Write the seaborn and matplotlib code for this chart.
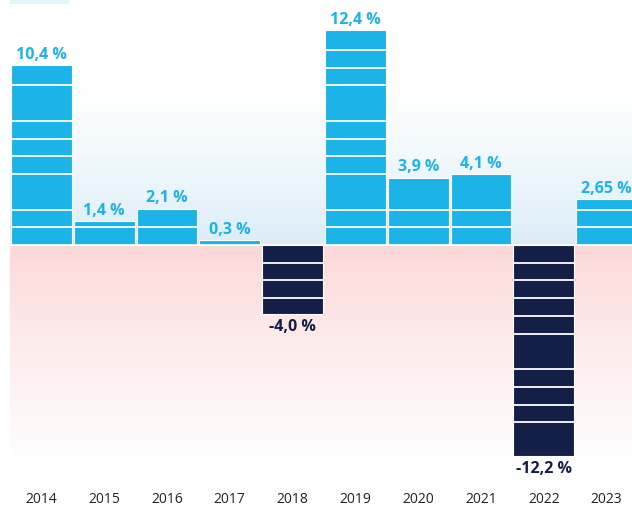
import numpy as np
import pandas as pd
import matplotlib
matplotlib.use("Agg")
import matplotlib.pyplot as plt
from matplotlib.patches import Rectangle
import seaborn as sns

# ---- data ----
years = ["2014", "2015", "2016", "2017", "2018", "2019", "2020", "2021", "2022", "2023"]
values = [10.4, 1.4, 2.1, 0.3, -4.0, 12.4, 3.9, 4.1, -12.2, 2.65]
labels = ["10,4 %", "1,4 %", "2,1 %", "0,3 %", "-4,0 %", "12,4 %", "3,9 %", "4,1 %", "-12,2 %", "2,65 %"]

# ---- style ----
POS = "#1cb4e8"
NEG = "#141f47"
sns.set_theme(style="white")
plt.rcParams["font.family"] = ["Open Sans", "DejaVu Sans"]

W, H = 632, 509
fig = plt.figure(figsize=(W / 100, H / 100), dpi=100)
ax_left_px, ax_top_px, ax_bot_px = 10, 0, 470
ax = fig.add_axes([ax_left_px / W, 1 - ax_bot_px / H, 1 - ax_left_px / W, (ax_bot_px - ax_top_px) / H])

df = pd.DataFrame({"year": years, "value": values,
                   "sign": ["pos" if v >= 0 else "neg" for v in values]})
sns.barplot(data=df, x="year", y="value", hue="sign", palette={"pos": POS, "neg": NEG},
            dodge=False, width=0.97, legend=False, edgecolor="white", linewidth=0.8,
            saturation=1, ax=ax, zorder=3)

px_per_unit = 17.3
zero_px = 245
ymax = (zero_px - ax_top_px) / px_per_unit
ymin = -(ax_bot_px - zero_px) / px_per_unit
x0 = -0.5
x1 = x0 + (W - ax_left_px) / 62.8
ax.set_xlim(x0, x1)
ax.set_ylim(ymin, ymax)

# background gradients
n = 400
ys = np.linspace(ymin, ymax, n)
img = np.ones((n, 2, 3))
top_c = np.array([218, 236, 248]) / 255
bot_c = np.array([252, 216, 216]) / 255
for i, yv in enumerate(ys):
    if yv >= 0:
        t = min(yv / 9.0, 1.0) ** 0.8
        c = top_c + (1 - top_c) * t
    else:
        t = min(-yv / 12.6, 1.0) ** 0.9
        c = bot_c + (1 - bot_c) * t
    img[i, :, :] = c
ax.imshow(img, extent=[x0, x1, ymin, ymax], origin="lower", aspect="auto", zorder=0,
          interpolation="bilinear")
ax.axhline(0, color="white", lw=1.2, zorder=4)

# white stripes inside bars
step = 1.025
pos_skip = {3, 8}
neg_skip = {6, 11}
for patch in ax.patches:
    h = patch.get_height()
    if h == 0 or np.isnan(h):
        continue
    v = patch.get_y() + h if h > 0 else patch.get_y()
    v = h
    xa, xb = patch.get_x(), patch.get_x() + patch.get_width()
    k = 1
    while k * step < abs(v) - 0.3:
        if (v > 0 and k not in pos_skip) or (v < 0 and k not in neg_skip):
            yy = k * step if v > 0 else -k * step
            ax.hlines(yy, xa, xb, colors="white", lw=1.3, zorder=5)
        k += 1

# value labels
for i, (v, lab) in enumerate(zip(values, labels)):
    if v >= 0:
        ax.annotate(lab, (i, v), xytext=(0, 4.5), textcoords="offset points",
                    ha="center", va="baseline", fontsize=11.5, fontweight="bold", color=POS, zorder=6)
    else:
        ax.annotate(lab, (i, v), xytext=(0, -3.5), textcoords="offset points",
                    ha="center", va="top", fontsize=11.5, fontweight="bold", color=NEG, zorder=6)

ax.set_xlabel("")
ax.set_ylabel("")
ax.set_yticks([])
ax.tick_params(axis="x", length=0, pad=16, labelsize=10, labelcolor="#222222")
for s in ax.spines.values():
    s.set_visible(False)
ax.set_facecolor("white")

# small light rectangle at top-left
fig.patches.append(Rectangle((10 / W, 1 - 4 / H), 59 / W, 4 / H, transform=fig.transFigure,
                             facecolor="#e3f4fb", edgecolor="none"))

fig.savefig("out.png", dpi=100)
